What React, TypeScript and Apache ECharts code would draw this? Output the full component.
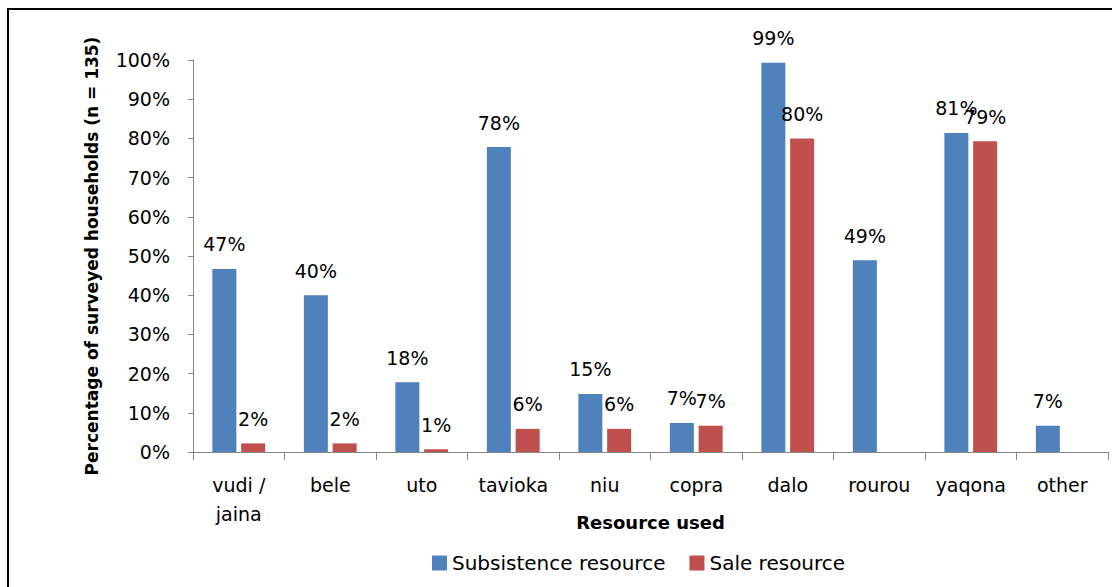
import React, { useEffect, useRef } from "react";
import * as echarts from "echarts";

const categories = ["vudi /\njaina", "bele", "uto", "tavioka", "niu", "copra", "dalo", "rourou", "yaqona", "other"];
const subsistence = [46.7, 40.0, 17.8, 77.8, 14.8, 7.4, 99.3, 48.9, 81.4, 6.7];
const sale = [2.2, 2.2, 0.7, 5.9, 5.9, 6.7, 80.0, null, 79.3, null];
const seriesNames = ["Subsistence resource", "Sale resource"];
const colors = ["#4F81BD", "#C0504D"];

const FONT = "DejaVu Sans";

export default function App() {
  const ref = useRef<HTMLDivElement>(null);
  useEffect(() => {
    const chart = echarts.init(ref.current!, null, { renderer: "svg" });
    const label = {
      show: true,
      position: "top",
      distance: 15,
      color: "#000",
      fontFamily: FONT,
      fontSize: 19,
      formatter: (p: any) => (p.value == null ? "" : Math.round(p.value) + "%"),
    };
    chart.setOption({
      animation: false,
      backgroundColor: "#fff",
      textStyle: { fontFamily: FONT },
      graphic: [
        {
          type: "rect",
          shape: { x: 8, y: 9, width: 1300, height: 800 },
          style: { fill: "none", stroke: "#000", lineWidth: 2 },
          silent: true,
        },
      ],
      grid: { left: 193, right: 4, top: 60, bottom: 135, containLabel: false },
      legend: {
        data: seriesNames,
        bottom: 9,
        left: 427,
        icon: "rect",
        itemWidth: 15,
        itemHeight: 15,
        itemGap: 24,
        textStyle: { fontFamily: FONT, fontSize: 20, color: "#000" },
      },
      xAxis: {
        type: "category",
        data: categories,
        name: "Resource used",
        nameLocation: "middle",
        nameGap: 61,
        nameMoveOverlap: false,
        nameTextStyle: { fontFamily: FONT, fontSize: 18, fontWeight: "bold", color: "#000" },
        axisLine: { lineStyle: { color: "#868686", width: 1 } },
        axisTick: { show: true, alignWithLabel: false, length: 8, lineStyle: { color: "#868686" } },
        axisLabel: { fontFamily: FONT, fontSize: 19, color: "#000", margin: 18, lineHeight: 29, interval: 0 },
      },
      yAxis: {
        type: "value",
        min: 0,
        max: 100,
        interval: 10,
        name: "Percentage of surveyed households (n = 135)",
        nameLocation: "middle",
        nameGap: 93,
        nameRotate: 90,
        nameMoveOverlap: false,
        nameTextStyle: { fontFamily: FONT, fontSize: 17, fontWeight: "bold", color: "#000" },
        axisLine: { show: true, lineStyle: { color: "#868686", width: 1 } },
        axisTick: { show: true, length: 5, lineStyle: { color: "#868686" } },
        splitLine: { show: false },
        axisLabel: { fontFamily: FONT, fontSize: 19, color: "#000", margin: 23, formatter: "{value}%" },
      },
      series: [
        {
          name: seriesNames[0],
          type: "bar",
          data: subsistence,
          barWidth: 24,
          barGap: "20%",
          itemStyle: { color: colors[0] },
          label,
        },
        {
          name: seriesNames[1],
          type: "bar",
          data: sale,
          barWidth: 24,
          itemStyle: { color: colors[1] },
          label,
        },
      ],
    });
    return () => chart.dispose();
  }, []);
  return <div ref={ref} style={{ position: "fixed", left: 0, top: 0, width: 1112, height: 587 }} />;
}
